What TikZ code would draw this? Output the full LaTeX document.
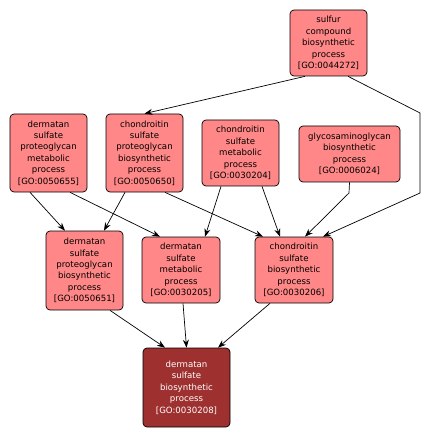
\documentclass[tikz,border=0pt]{standalone}
\usepackage{fontspec}
\setmainfont{DejaVu Sans}
\usetikzlibrary{arrows.meta}
\definecolor{gofill}{RGB}{255,135,135}
\definecolor{godark}{RGB}{158,48,48}
\tikzset{
  term/.style={draw=black, line width=0.7bp, fill=gofill, rounded corners=4bp,
    align=center, inner sep=0pt, font=\fontsize{8.6bp}{11.4bp}\selectfont},
  leaf/.style={term, fill=godark, text=white},
  edge/.style={draw=black, line width=0.7bp, -{Stealth[length=8bp,width=6bp]}}
}
\begin{document}
\begin{tikzpicture}[x=1bp,y=-1bp]
\useasboundingbox (0,0) rectangle (430,438);
\node[term, minimum width=77bp, minimum height=66bp] (A) at (328.5,43) {sulfur\\compound\\biosynthetic\\process\\{}[GO:0044272]};
\node[term, minimum width=77bp, minimum height=78bp] (B) at (48.5,153) {dermatan\\sulfate\\proteoglycan\\metabolic\\process\\{}[GO:0050655]};
\node[term, minimum width=77bp, minimum height=78bp] (C) at (144.5,153) {chondroitin\\sulfate\\proteoglycan\\biosynthetic\\process\\{}[GO:0050650]};
\node[term, minimum width=77bp, minimum height=66bp] (D) at (240.5,153) {chondroitin\\sulfate\\metabolic\\process\\{}[GO:0030204]};
\node[term, minimum width=101bp, minimum height=56bp] (E) at (349.5,154) {glycosaminoglycan\\biosynthetic\\process\\{}[GO:0006024]};
\node[term, minimum width=77bp, minimum height=79bp] (F) at (84.5,270.5) {dermatan\\sulfate\\proteoglycan\\biosynthetic\\process\\{}[GO:0050651]};
\node[term, minimum width=78bp, minimum height=66bp] (G) at (181,270) {dermatan\\sulfate\\metabolic\\process\\{}[GO:0030205]};
\node[term, minimum width=78bp, minimum height=66bp] (H) at (294,270) {chondroitin\\sulfate\\biosynthetic\\process\\{}[GO:0030206]};
\node[leaf, minimum width=87bp, minimum height=79bp] (I) at (186.5,387.5) {dermatan\\sulfate\\biosynthetic\\process\\{}[GO:0030208]};
\coordinate (ah1) at (420,113);
\coordinate (ah2) at (420,193);
\coordinate (eh1) at (349,193);
\draw[edge] ([xshift=-23.5bp]A.south) -- (C.north);
\draw[edge] ([xshift=19.5bp]A.south) -- (ah1) -- (ah2) -- ([xshift=29bp]H.north);
\draw[edge] (E.south) -- (eh1) -- ([xshift=11bp]H.north);
\draw[edge] ([xshift=-19.5bp]D.south) -- ([xshift=24bp]G.north);
\draw[edge] ([xshift=21.5bp]D.south) -- ([xshift=-14bp]H.north);
\draw[edge] ([xshift=-18.5bp]B.south) -- ([xshift=-19.5bp]F.north);
\draw[edge] ([xshift=21.5bp]B.south) -- ([xshift=-21bp]G.north);
\draw[edge] ([xshift=-19.5bp]C.south) -- ([xshift=19.5bp]F.north);
\draw[edge] ([xshift=20.5bp]C.south) -- ([xshift=-31bp]H.north);
\draw[edge] ([xshift=25.5bp]F.south) -- ([xshift=-21.5bp]I.north);
\draw[edge] ([xshift=2bp]G.south) -- (I.north);
\draw[edge] ([xshift=-24bp]H.south) -- ([xshift=31.5bp]I.north);
\end{tikzpicture}
\end{document}
